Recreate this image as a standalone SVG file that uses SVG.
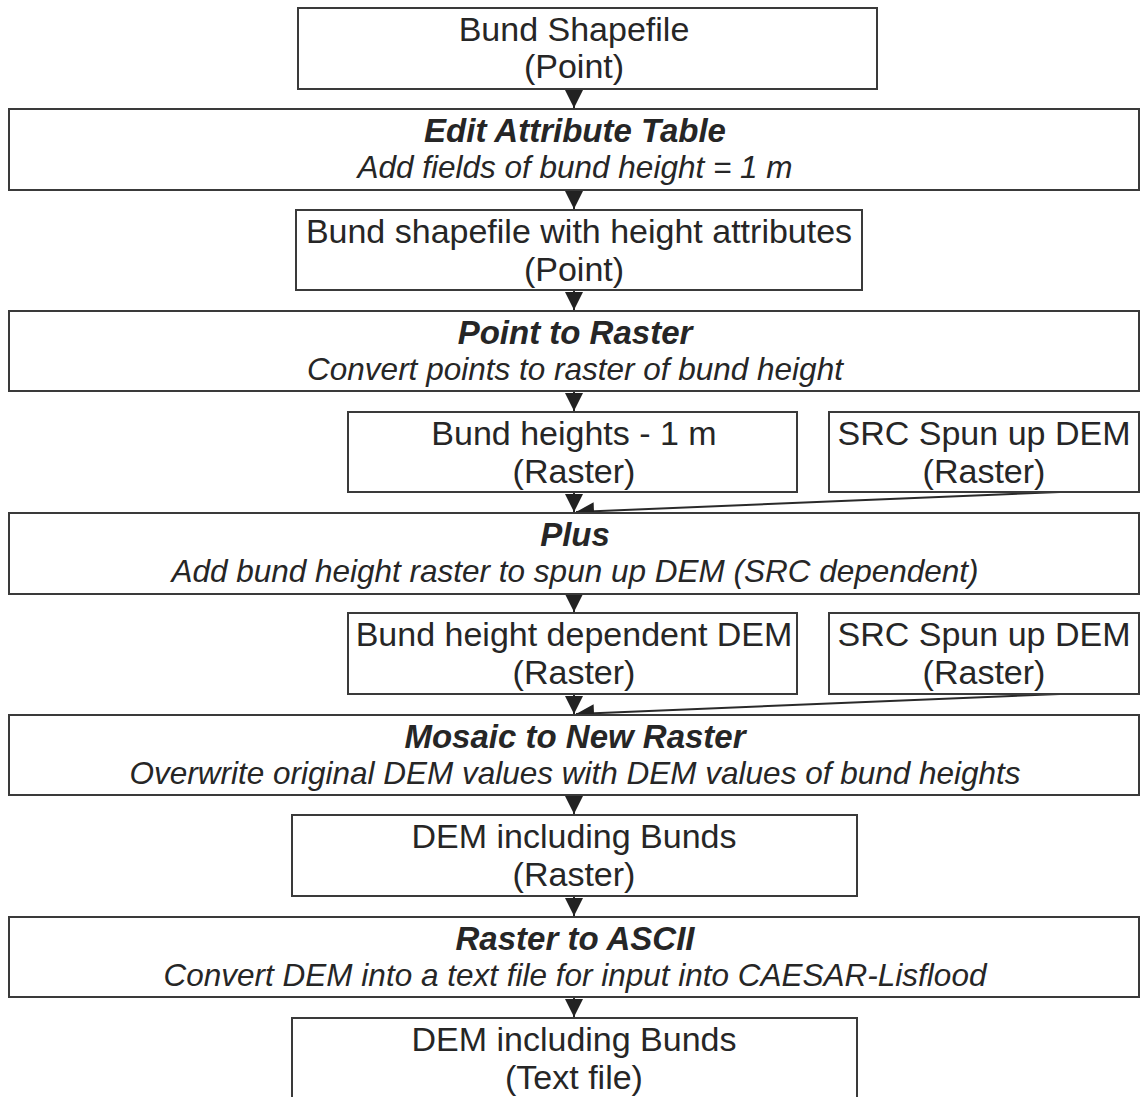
<svg xmlns="http://www.w3.org/2000/svg" width="1144" height="1097" viewBox="0 0 1144 1097">
<style>
.box{fill:#fff;stroke:#3a3a3a;stroke-width:2}
.t{font-family:"Liberation Sans",Arial,sans-serif;font-size:34px;fill:#262626;text-anchor:middle}
.h{font-weight:bold;font-style:italic;font-size:33px}
.s{font-style:italic;font-size:31.5px}
.c{stroke:#2a2a2a;stroke-width:2;fill:none}
</style>
<defs>
<marker id="ah" markerUnits="userSpaceOnUse" markerWidth="19" markerHeight="18" refX="18" refY="9" orient="auto">
<path d="M0,0 L18,9 L0,18 z" fill="#222"/>
</marker>
</defs>
<rect width="1144" height="1097" fill="#fff"/>
<g id="connectors">
<line class="c" x1="574" y1="89" x2="574" y2="108" marker-end="url(#ah)"/>
<line class="c" x1="574" y1="190" x2="574" y2="209" marker-end="url(#ah)"/>
<line class="c" x1="574" y1="290" x2="574" y2="310" marker-end="url(#ah)"/>
<line class="c" x1="574" y1="391" x2="574" y2="411" marker-end="url(#ah)"/>
<line class="c" x1="574" y1="492" x2="574" y2="512" marker-end="url(#ah)"/>
<line class="c" x1="1060" y1="492" x2="576" y2="512" marker-end="url(#ah)"/>
<line class="c" x1="574" y1="594" x2="574" y2="612" marker-end="url(#ah)"/>
<line class="c" x1="574" y1="694" x2="574" y2="714" marker-end="url(#ah)"/>
<line class="c" x1="1060" y1="694" x2="576" y2="714" marker-end="url(#ah)"/>
<line class="c" x1="574" y1="795" x2="574" y2="814" marker-end="url(#ah)"/>
<line class="c" x1="574" y1="896" x2="574" y2="916" marker-end="url(#ah)"/>
<line class="c" x1="574" y1="997" x2="574" y2="1017" marker-end="url(#ah)"/>
</g>
<g id="n1"><rect class="box" x="298" y="8" width="579" height="81"/>
<text class="t" x="574" y="41">Bund Shapefile</text><text class="t" x="574" y="78">(Point)</text></g>
<g id="n2"><rect class="box" x="9" y="109" width="1130" height="81"/>
<text class="t h" x="575" y="142">Edit Attribute Table</text><text class="t s" x="575" y="178">Add fields of bund height = 1 m</text></g>
<g id="n3"><rect class="box" x="296" y="210" width="566" height="80"/>
<text class="t" x="579" y="243">Bund shapefile with height attributes</text><text class="t" x="574" y="281">(Point)</text></g>
<g id="n4"><rect class="box" x="9" y="311" width="1130" height="80"/>
<text class="t h" x="575" y="344">Point to Raster</text><text class="t s" x="575" y="380">Convert points to raster of bund height</text></g>
<g id="n5"><rect class="box" x="348" y="412" width="449" height="80"/>
<text class="t" x="574" y="445">Bund heights - 1 m</text><text class="t" x="574" y="483">(Raster)</text></g>
<g id="n6"><rect class="box" x="829" y="412" width="310" height="80"/>
<text class="t" x="984" y="445">SRC Spun up DEM</text><text class="t" x="984" y="483">(Raster)</text></g>
<g id="n7"><rect class="box" x="9" y="513" width="1130" height="81"/>
<text class="t h" x="575" y="546">Plus</text><text class="t s" x="575" y="582">Add bund height raster to spun up DEM (SRC dependent)</text></g>
<g id="n8"><rect class="box" x="348" y="613" width="449" height="81"/>
<text class="t" x="574" y="646">Bund height dependent DEM</text><text class="t" x="574" y="684">(Raster)</text></g>
<g id="n9"><rect class="box" x="829" y="613" width="310" height="81"/>
<text class="t" x="984" y="646">SRC Spun up DEM</text><text class="t" x="984" y="684">(Raster)</text></g>
<g id="n10"><rect class="box" x="9" y="715" width="1130" height="80"/>
<text class="t h" x="575" y="748">Mosaic to New Raster</text><text class="t s" x="575" y="784">Overwrite original DEM values with DEM values of bund heights</text></g>
<g id="n11"><rect class="box" x="292" y="815" width="565" height="81"/>
<text class="t" x="574" y="848">DEM including Bunds</text><text class="t" x="574" y="886">(Raster)</text></g>
<g id="n12"><rect class="box" x="9" y="917" width="1130" height="80"/>
<text class="t h" x="575" y="950">Raster to ASCII</text><text class="t s" x="575" y="986">Convert DEM into a text file for input into CAESAR-Lisflood</text></g>
<g id="n13"><rect class="box" x="292" y="1018" width="565" height="92"/>
<text class="t" x="574" y="1051">DEM including Bunds</text><text class="t" x="574" y="1089">(Text file)</text></g>
</svg>
